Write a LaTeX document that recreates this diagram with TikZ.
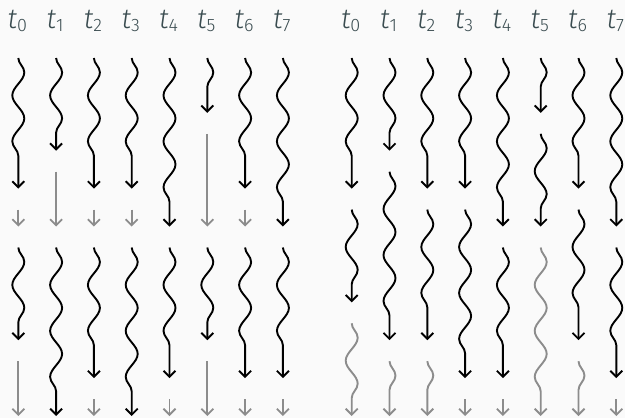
\documentclass[tikz,border=0pt]{standalone}
\usepackage{fontspec}
\setmainfont{Fira Sans}[UprightFont={* Light}, ItalicFont={* Light Italic}]
\usetikzlibrary{decorations.pathmorphing,arrows.meta}
\definecolor{bgcol}{HTML}{FAFAFA}
\definecolor{lblcol}{HTML}{3A4C50}
\definecolor{waitgray}{HTML}{8C8C8C}
\def\xbL{18.3}
\def\xbR{351.7}
\tikzset{
  barbtip/.style={-{Straight Barb[length=6pt,width=12pt]}},
  wavy/.style={line width=1.9pt, barbtip, decorate,
    decoration={snake, segment length=46pt, amplitude=6pt, post length=12pt}},
  work/.style={wavy, draw=black},
  waitwave/.style={wavy, draw=waitgray},
  waitline/.style={line width=1.8pt, barbtip, draw=waitgray},
  lbl/.style={text=lblcol, font=\fontsize{28}{30}\selectfont, anchor=base, inner sep=0pt},
}
% #1 side, #2 column, #3 start slot, #4 end slot, #5 style
\newcommand\wv[5]{%
  \coordinate (#1#2s#3) at ({\csname xb#1\endcsname+37.8*#2},{58+37.9*#3});
  \coordinate (#1#2e#4) at ({\csname xb#1\endcsname+37.8*#2},{58+37.9*#4-21});
  \draw[#5] (#1#2s#3) -- (#1#2e#4);
}
\newcommand\tlab[2]{%
  \node[lbl] (#1t#2) at ({\csname xb#1\endcsname+37.8*#2-1},28)
    {\textit{t}\raisebox{-3pt}{\fontsize{18}{18}\selectfont #2}};
}
\begin{document}
\begin{tikzpicture}[x=1pt,y=-1pt]
\fill[bgcol] (0,0) rectangle (625,418);
\useasboundingbox (0,0) rectangle (625,418);
\foreach \i in {0,...,7} {\tlab{L}{\i}\tlab{R}{\i}}
% ---------- left ----------
\wv{L}{0}{0}{4}{work}  \wv{L}{0}{4}{5}{waitline} \wv{L}{0}{5}{8}{work}  \wv{L}{0}{8}{10}{waitline}
\wv{L}{1}{0}{3}{work}  \wv{L}{1}{3}{5}{waitline} \wv{L}{1}{5}{10}{work}
\wv{L}{2}{0}{4}{work}  \wv{L}{2}{4}{5}{waitline} \wv{L}{2}{5}{9}{work}  \wv{L}{2}{9}{10}{waitline}
\wv{L}{3}{0}{4}{work}  \wv{L}{3}{4}{5}{waitline} \wv{L}{3}{5}{10}{work}
\wv{L}{4}{0}{5}{work}  \wv{L}{4}{5}{9}{work}     \wv{L}{4}{9}{10}{waitline}
\wv{L}{5}{0}{2}{work}  \wv{L}{5}{2}{5}{waitline} \wv{L}{5}{5}{8}{work}  \wv{L}{5}{8}{10}{waitline}
\wv{L}{6}{0}{4}{work}  \wv{L}{6}{4}{5}{waitline} \wv{L}{6}{5}{9}{work}  \wv{L}{6}{9}{10}{waitline}
\wv{L}{7}{0}{5}{work}  \wv{L}{7}{5}{9}{work}     \wv{L}{7}{9}{10}{waitline}
% ---------- right ----------
\wv{R}{0}{0}{4}{work}  \wv{R}{0}{4}{7}{work}  \wv{R}{0}{7}{10}{waitwave}
\wv{R}{1}{0}{3}{work}  \wv{R}{1}{3}{8}{work}  \wv{R}{1}{8}{10}{waitwave}
\wv{R}{2}{0}{4}{work}  \wv{R}{2}{4}{8}{work}  \wv{R}{2}{8}{10}{waitwave}
\wv{R}{3}{0}{4}{work}  \wv{R}{3}{4}{9}{work}  \wv{R}{3}{9}{10}{waitline}
\wv{R}{4}{0}{5}{work}  \wv{R}{4}{5}{9}{work}  \wv{R}{4}{9}{10}{waitline}
\wv{R}{5}{0}{2}{work}  \wv{R}{5}{2}{5}{work}  \wv{R}{5}{5}{10}{waitwave}
\wv{R}{6}{0}{4}{work}  \wv{R}{6}{4}{8}{work}  \wv{R}{6}{8}{10}{waitwave}
\wv{R}{7}{0}{5}{work}  \wv{R}{7}{5}{9}{work}  \wv{R}{7}{9}{10}{waitline}
\end{tikzpicture}
\end{document}
